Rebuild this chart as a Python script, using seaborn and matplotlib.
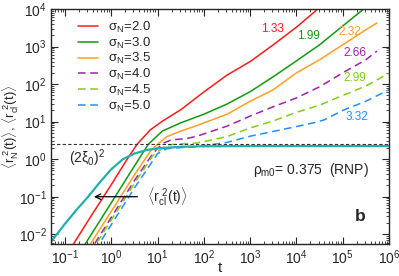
import numpy as np
import pandas as pd
import matplotlib
matplotlib.use('Agg')
import matplotlib.pyplot as plt
import seaborn as sns

# values (t, <r^2>)
t_s20 = [0.1, 0.316, 1.0, 2.0, 3.6, 6.9, 13, 32, 100, 316, 1000, 3160, 1.0e4, 3.16e4]
r_s20 = [0.0024, 0.023, 0.21, 0.83, 2.5, 6.0, 10.5, 21, 62, 174, 400, 1120, 3300, 1.1e4]

t_s30 = [0.2, 1.0, 3.16, 6.3, 12.6, 31.6, 100, 316, 1000, 3160, 1.0e4, 3.16e4, 1.0e5, 3.16e5]
r_s30 = [0.0030, 0.069, 0.66, 2.5, 5.6, 9.3, 15.8, 29.5, 63, 158, 417, 1120, 3550, 1.12e4]

t_s35 = [0.25, 1.0, 3.16, 6.9, 10, 15.8, 31.6, 71, 316, 1000, 3160, 1.0e4, 3.16e4, 1.0e5, 3.16e5, 5.5e5]
r_s35 = [0.0028, 0.041, 0.38, 1.6, 2.5, 4.0, 5.6, 7.9, 15.8, 35, 71, 200, 447, 1120, 2820, 4270]

t_s40 = [0.316, 1.0, 3.16, 7.9, 12.6, 20, 40, 71, 316, 1000, 3160, 1.0e4, 3.16e4, 1.0e5, 3.16e5, 5.5e5]
r_s40 = [0.0030, 0.028, 0.27, 1.41, 2.6, 3.3, 3.5, 4.1, 7.6, 14.1, 25, 43, 85, 200, 447, 760]

t_s45 = [0.355, 1.0, 3.16, 7.9, 15.8, 31.6, 71, 316, 1000, 3160, 1.0e4, 3.16e4, 1.0e5, 3.16e5, 1.0e6]
r_s45 = [0.0032, 0.024, 0.224, 1.26, 2.4, 2.55, 2.7, 4.0, 6.8, 10.5, 17.8, 27.5, 50, 89, 195]

t_s50 = [0.45, 1.0, 3.16, 10, 15.8, 31.6, 71, 316, 1000, 3160, 1.0e4, 2.5e4, 4.0e4, 1.0e5, 3.16e5, 1.0e6]
r_s50 = [0.0038, 0.018, 0.17, 1.41, 1.9, 2.04, 2.15, 2.8, 4.1, 5.5, 7.4, 9.5, 11.2, 20, 35, 71]

t_cl = [0.0398, 0.0513, 0.1, 0.178, 0.316, 0.562, 1.0, 1.78, 3.16, 5.62, 10, 31.6, 100, 1000, 1.0e6]
r_cl = [0.00468, 0.0066, 0.019, 0.045, 0.100, 0.24, 0.54, 1.0, 1.41, 1.74, 1.95, 2.14, 2.21, 2.24, 2.24]

sigma_labels = ['2.0', '3.0', '3.5', '4.0', '4.5', '5.0']
slope_labels = ['1.33', '1.99', '2.32', '2.66', '2.99', '3.32']
colors = ['#ff1a1a', '#119911', '#ffa020', '#a020b0', '#80d010', '#2090ff']
xi_sq = 2.5

series = [(t_s20, r_s20), (t_s30, r_s30), (t_s35, r_s35),
          (t_s40, r_s40), (t_s45, r_s45), (t_s50, r_s50)]

sns.set_style('ticks')
plt.rcParams['font.family'] = ['Liberation Sans', 'DejaVu Sans']
plt.rcParams['mathtext.fontset'] = 'custom'
plt.rcParams['mathtext.rm'] = 'Liberation Sans'
plt.rcParams['mathtext.it'] = 'Liberation Sans'
plt.rcParams['mathtext.bf'] = 'Liberation Sans:bold'

fig = plt.figure(figsize=(3.99, 2.76), dpi=100)
ax = fig.add_axes([0.128, 0.116, 0.847, 0.851])
ax.set_xscale('log')
ax.set_yscale('log')

for i, (tt, rr) in enumerate(series):
    df = pd.DataFrame({'t': tt, 'r': rr})
    ls = '-' if i < 3 else (0, (5, 3))
    sns.lineplot(data=df, x='t', y='r', ax=ax, color=colors[i], lw=1.1,
                 linestyle=ls, estimator=None, sort=False,
                 label='σ$_N$=' + sigma_labels[i])

df = pd.DataFrame({'t': t_cl, 'r': r_cl})
sns.lineplot(data=df, x='t', y='r', ax=ax, color='#20b2aa', lw=1.6,
             estimator=None, sort=False, label='_cl')

ax.axhline(xi_sq, color='#333333', lw=0.8, ls=(0, (3, 2)))

ax.set_xlim(0.05, 1e6)
ax.set_ylim(5.5e-3, 1e4)
ax.set_xticks([10.0**k for k in range(-1, 7)])
ax.set_yticks([10.0**k for k in range(-2, 5)])
ax.tick_params(which='both', direction='in', top=True, right=True, labelsize=10)
ax.tick_params(which='major', length=5, width=0.8, pad=3)
ax.tick_params(which='minor', length=2.5, width=0.6)
for s in ax.spines.values():
    s.set_linewidth(1.0)

ax.set_xlabel('t', fontsize=11)
ax.xaxis.set_label_coords(0.5, -0.072)
ax.set_ylabel(r'$\langle r_N^{\ 2}(t)\rangle$, $\langle r_{cl}^{\ 2}(t)\rangle$', fontsize=9.5)
ax.yaxis.set_label_coords(-0.09, 0.5)

leg = ax.legend(loc='upper left', bbox_to_anchor=(0.08, 0.955), frameon=False,
                fontsize=9.5, handlelength=1.5, handletextpad=0.8,
                labelspacing=0.05, borderpad=0, borderaxespad=0)

pos = [(0.654, 0.915), (0.763, 0.885), (0.885, 0.902),
       (0.899, 0.813), (0.899, 0.706), (0.905, 0.540)]
for i, s in enumerate(slope_labels):
    ax.text(pos[i][0], pos[i][1], s, color=colors[i], fontsize=8.5,
            ha='center', va='center', transform=ax.transAxes)

ax.text(0.107, 0.366, r'$(2\xi_0)^2$', fontsize=10, ha='center', va='center',
        transform=ax.transAxes)
ax.annotate('', xy=(0.366, 0.1), xytext=(4.2, 0.1),
            arrowprops=dict(arrowstyle='->', color='black', lw=0.9))
ax.text(5.9, 0.1, r'$\langle r_{cl}^{\ 2}(t)\rangle$', fontsize=10, ha='left', va='center')
ax.text(0.598, 0.315, r'$\rho_{m0}$= 0.375  (RNP)', fontsize=10, ha='left', va='center',
        transform=ax.transAxes)
ax.text(0.914, 0.119, 'b', fontsize=12.5, fontweight='bold', ha='center', va='center',
        transform=ax.transAxes)

fig.savefig('out.png', dpi=100)
